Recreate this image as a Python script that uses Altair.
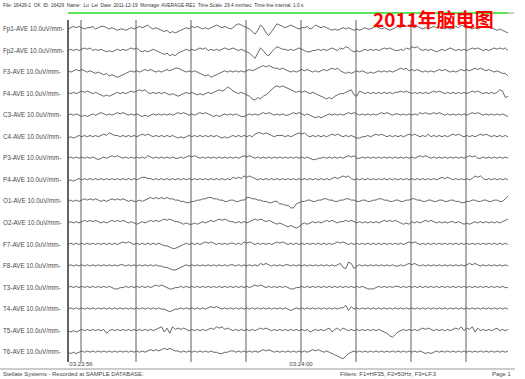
import altair as alt
import pandas as pd

# ---------------- data ----------------
channels = ["Fp1", "Fp2", "F3", "F4", "C3", "C4", "P3", "P4",
            "O1", "O2", "F7", "F8", "T3", "T4", "T5", "T6"]
sensitivity = "10.0uV/mm"

# trace deflections (upward positive), read across the 8 s page
Fp1 = [0,1,2,1,2,1,0,1,1,2,0,1,2,2,1,0,1,0,-1,0,
       0,-1,0,1,0,1,2,1,2,3,1,0,1,0,-1,-2,-1,-3,-2,-3,
       -2,-1,0,1,0,2,1,2,1,0,1,0,1,2,3,2,1,2,1,0,
       1,3,4,3,2,1,0,-2,-4,-1,3,1,-3,-5,-2,1,4,3,2,1,
       2,3,2,1,0,1,1,2,0,1,3,2,1,2,1,0,-1,0,-1,0,
       1,0,1,0,-1,0,-1,0,1,0,0,1,2,1,0,1,0,-1,0,1,
       2,1,3,2,3,2,1,2,1,0,1,0,1,2,1,2,1,0,1,0,
       1,2,1,3,2,3,1,0,1,0,1,2,1,2,1,0,-1,0,-1,-2, -3]
Fp2 = [0,1,0,1,0,1,2,1,2,0,1,0,1,0,-1,0,-1,0,1,0,
       1,0,1,2,1,2,0,-1,0,-1,0,1,0,-1,-2,-3,-2,-4,-3,-4,
       -2,-1,0,1,0,1,0,1,2,1,2,0,1,0,1,0,1,2,1,1,
       2,1,0,1,0,-1,-2,-4,-6,-2,2,0,-3,-4,-1,1,3,2,1,1,
       0,1,0,1,2,1,0,-1,-1,0,0,1,0,1,0,1,2,1,0,2,
       1,3,2,0,-1,0,-1,0,1,0,1,0,1,0,1,2,1,2,1,0,
       0,1,0,2,1,3,2,3,1,0,1,0,1,0,-1,0,1,0,1,2,
       1,0,1,0,1,0,1,2,1,2,1,0,1,0,1,2,1,2,1,2, 0]
F3 = [1,0,1,2,1,2,1,0,1,0,-1,0,-1,-2,-1,-3,-2,-3,-4,-3,
      -2,-1,0,1,0,1,0,1,2,1,2,1,0,1,0,1,2,1,2,3,
      3,2,1,0,1,0,1,0,-1,-2,-3,-2,-4,-3,-2,-1,0,1,0,1,
      0,1,0,1,0,1,2,1,2,3,4,5,4,5,4,3,3,2,3,2,
      1,0,1,0,1,2,1,2,1,0,1,0,1,2,1,2,3,2,3,1,
      0,-1,0,-1,0,1,0,1,0,-1,0,-1,0,1,0,1,0,1,0,1,
      2,3,2,3,1,2,1,2,1,0,1,0,1,0,1,2,1,2,1,0,
      1,0,1,2,1,2,1,2,3,2,3,2,1,2,1,0,1,0,-1,-1, -3]
F4 = [1,0,1,0,1,2,1,2,1,0,1,0,-1,-2,-1,-2,-1,0,1,0,
      1,0,1,2,1,2,3,2,3,1,0,1,0,1,0,1,0,-1,0,-1,
      -2,-1,0,1,0,1,0,-1,0,-1,0,1,0,1,2,3,2,3,5,4,
      2,1,0,1,0,-1,-2,-4,-5,-3,-4,-2,-1,1,3,5,6,5,6,5,
      4,3,2,1,2,1,2,1,0,1,0,-1,-2,-3,-4,-3,-4,-2,-1,0,
      0,1,2,3,-1,-2,2,1,0,1,0,1,0,1,0,1,0,1,0,1,
      1,2,1,2,1,0,1,0,1,0,1,0,1,2,1,2,1,0,1,0,
      1,0,1,0,1,0,1,2,1,2,1,0,1,0,1,0,1,3,2,-3, -2]
C3 = [0,1,0,1,0,-1,0,-1,0,1,0,1,2,1,0,1,0,1,2,1,
      2,1,0,1,0,1,0,-1,0,-1,0,1,0,1,0,1,0,1,0,1,
      2,1,2,1,0,1,0,1,2,1,2,1,0,-1,0,-1,0,1,0,1,
      0,1,0,-1,-1,0,1,0,1,0,1,2,1,2,1,0,1,0,1,0,
      0,1,2,1,2,1,0,1,0,-1,-2,-1,-2,-1,0,1,0,1,0,1,
      0,1,2,1,2,1,0,1,0,1,0,1,0,1,2,1,2,1,0,1,
      1,0,1,0,1,0,1,0,2,1,2,1,1,2,1,2,1,0,1,0,
      1,0,1,0,1,0,1,2,1,2,1,0,1,0,1,0,1,0,1,0, -1]
C4 = [-1,0,-1,0,1,0,1,0,1,0,1,0,1,2,1,3,2,1,1,0,
      1,0,1,0,1,0,1,2,1,2,1,0,1,0,1,0,1,0,1,0,
      -1,0,-1,0,1,0,1,0,1,0,1,0,1,0,1,0,-1,0,-1,0,
      1,0,1,0,1,0,1,0,2,3,3,2,3,2,1,0,1,1,1,0,
      1,0,1,2,3,2,3,1,0,1,0,1,0,1,0,1,2,1,2,1,
      0,1,0,1,0,-1,-1,0,0,1,0,1,2,1,2,1,0,1,0,1,
      0,1,0,1,2,1,2,1,0,1,0,2,0,1,0,1,0,1,0,1,
      2,1,2,1,0,1,0,1,0,1,2,1,2,1,0,1,0,1,0,1, 0]
P3 = [0,1,0,1,0,1,0,1,0,1,0,-1,0,1,0,1,2,1,2,1,
      0,1,0,1,0,1,0,1,0,2,1,0,1,0,1,0,1,0,1,0,
      0,1,0,1,2,1,2,1,0,1,0,1,0,1,0,1,0,1,0,1,
      0,1,0,1,2,1,2,1,0,1,0,1,0,1,0,1,0,1,0,1,
      0,1,0,1,0,1,0,1,0,-1,-1,0,0,1,0,1,0,1,0,1,
      0,1,2,1,2,0,0,1,0,1,0,1,0,1,0,1,0,1,0,1,
      0,1,0,1,0,1,0,1,2,1,2,1,0,1,0,1,0,1,0,1,
      0,1,0,1,0,1,2,1,2,0,0,1,0,1,0,1,0,1,0,1, 0]
P4 = [-1,0,-1,0,1,0,1,0,1,0,1,0,1,0,1,0,1,0,1,0,
      1,0,1,0,1,0,1,2,2,1,1,0,1,0,1,0,1,0,1,0,
      1,0,1,0,1,0,1,0,1,0,1,0,1,0,1,0,1,0,1,0,
      2,1,2,1,3,2,3,2,1,0,1,0,1,0,1,0,1,0,1,0,
      1,0,1,0,1,0,1,0,1,0,1,0,1,0,1,0,1,2,1,2,
      3,2,3,1,0,1,0,1,0,1,0,1,0,1,0,1,0,1,0,1,
      0,1,0,1,0,1,0,1,0,1,0,1,0,1,0,1,2,1,2,1,
      0,1,0,1,0,1,0,1,3,2,3,1,0,1,0,1,0,1,0,1, 0]
O1 = [0,1,0,1,0,1,2,1,2,1,2,1,0,1,0,1,2,1,2,1,
      2,1,0,1,0,0,1,0,1,2,3,2,3,2,3,2,3,2,2,1,
      1,0,0,-1,-1,0,0,1,1,2,2,3,3,2,2,1,1,0,0,1,
      1,0,0,1,1,3,3,2,2,1,1,0,0,-1,-1,0,0,-2,-2,-3,
      -3,-5,-5,-2,-1,0,0,1,1,0,0,1,1,2,2,1,1,0,0,1,
      1,2,2,1,1,0,0,1,1,0,0,1,1,2,2,1,1,0,0,1,
      1,0,0,1,1,2,2,1,1,0,0,1,1,0,0,1,1,0,0,1,
      1,0,0,-1,-1,0,0,1,1,0,0,1,1,0,0,1,1,0,0,2, 4]
O2 = [0,1,0,1,0,1,2,1,2,1,2,1,0,1,0,1,2,1,2,1,
      2,1,0,1,0,-1,0,1,0,1,2,1,2,1,2,3,2,3,2,1,
      1,0,-1,0,-1,-1,0,-1,0,1,0,1,2,1,2,3,2,3,2,1,
      1,0,1,0,1,0,1,2,3,2,3,2,1,2,1,0,-1,0,-1,-2,
      -3,-2,-3,-4,-3,-1,0,-1,0,1,0,1,0,1,2,1,2,1,0,1,
      1,2,1,2,1,0,1,0,1,0,1,0,1,0,1,2,1,2,1,2,
      1,0,-1,0,-1,1,0,1,0,1,2,1,2,1,0,1,0,1,0,1,
      1,0,1,0,-1,0,-1,0,1,0,1,0,1,0,1,0,1,0,1,2, 3]
F7 = [0,1,0,1,0,1,0,1,0,1,0,1,0,1,0,1,0,1,0,1,
      2,1,2,1,0,1,0,1,0,1,0,1,0,1,0,-1,-1,-2,-3,-3,
      -2,-1,0,1,0,1,0,1,0,1,2,1,2,1,0,1,0,1,0,1,
      1,0,1,0,2,1,2,1,0,1,0,1,0,1,0,1,2,1,2,1,
      0,1,0,1,0,1,0,1,0,1,0,1,0,1,0,1,0,1,2,1,
      2,1,0,1,0,1,0,1,0,1,0,1,0,1,0,1,0,1,0,1,
      0,1,0,1,2,1,2,1,0,1,0,1,0,1,0,1,0,1,0,1,
      0,1,0,1,0,1,0,1,0,1,0,1,0,1,0,1,0,1,0,1, 0]
F8 = [0,1,0,1,0,1,0,1,0,1,0,1,0,1,0,1,0,1,0,1,
      1,0,1,0,1,0,1,0,1,0,1,0,1,0,0,-1,-1,-2,-3,-3,
      -2,-1,0,1,0,1,0,1,0,1,0,1,0,1,0,1,0,1,0,1,
      1,0,1,0,1,0,1,0,1,0,2,1,2,1,0,1,0,1,0,1,
      1,0,1,0,1,0,1,0,1,0,1,0,1,0,1,0,1,0,1,2,
      -1,-2,3,2,-2,0,1,0,1,0,1,0,1,0,1,0,1,0,1,0,
      0,1,0,1,2,1,2,1,0,1,0,1,0,1,0,1,0,1,0,1,
      0,1,0,1,0,1,2,1,2,1,0,1,0,1,0,1,0,1,0,1, 0]
T3 = [0,1,0,1,0,1,0,1,0,1,0,1,0,1,0,1,0,-1,-1,0,
      0,1,0,1,0,1,0,1,0,1,0,1,2,1,2,1,0,-1,-1,0,
      0,1,0,1,0,1,0,1,0,1,0,1,0,1,0,1,0,1,0,1,
      0,1,0,1,0,1,0,1,2,1,2,1,0,1,0,1,0,1,0,1,
      0,-1,-1,0,0,1,0,1,0,1,0,1,0,1,0,1,0,1,0,1,
      0,1,0,1,0,1,0,1,0,-1,-1,-1,0,1,0,1,0,1,0,1,
      1,0,1,0,1,0,1,0,1,0,1,0,1,0,1,0,1,0,1,0,
      1,0,1,0,1,0,1,0,1,0,1,0,1,0,1,0,1,0,1,0, 0]
T4 = [0,1,0,1,0,1,0,1,0,1,0,1,0,1,0,1,0,1,0,1,
      0,1,0,1,0,1,0,1,0,1,0,1,0,1,0,0,-1,-2,-1,0,
      0,1,0,1,0,1,0,1,0,1,0,1,2,1,2,1,0,1,0,1,
      0,1,0,1,0,1,0,1,0,1,0,1,0,1,0,1,0,1,0,1,
      0,-1,0,1,0,1,0,1,0,1,0,1,0,1,0,1,0,1,0,1,
      1,3,-1,2,0,1,0,1,0,1,0,1,0,1,0,1,0,1,0,1,
      0,1,0,1,0,1,0,1,0,1,0,1,0,1,0,1,0,1,0,1,
      0,1,0,1,0,1,0,1,0,1,0,1,0,1,0,1,0,1,0,1, 0]
T5 = [0,-1,0,-1,0,1,0,1,0,1,0,1,0,1,-2,0,1,0,1,0,
      1,0,1,0,1,0,1,0,1,0,1,0,1,2,3,-1,2,-2,3,1,
      2,1,2,1,0,1,0,1,0,1,0,1,2,1,3,2,3,1,2,1,
      0,1,0,1,0,1,0,1,0,1,2,1,2,1,0,1,0,1,0,1,
      0,1,0,1,0,1,0,1,-1,0,1,0,1,0,1,2,-1,1,2,0,
      2,1,0,1,0,1,0,1,0,1,0,1,0,1,0,-1,-2,-4,-5,-3,
      -1,0,1,0,1,0,1,0,1,2,1,2,1,0,1,0,1,0,1,0,
      1,2,1,3,0,2,1,3,-1,2,0,1,0,1,0,1,2,0,1,0, 1]
T6 = [0,-1,0,-1,0,1,0,1,0,1,0,1,0,1,0,1,0,1,0,1,
      0,1,0,1,0,1,0,1,0,1,2,1,2,1,2,3,2,3,2,1,
      1,0,1,0,1,0,1,0,1,0,1,0,1,0,0,-1,-1,0,0,1,
      1,0,1,0,1,0,1,0,1,0,1,2,1,2,1,0,1,0,1,0,
      1,0,1,0,1,0,1,0,1,2,1,2,1,0,1,0,-1,-2,-3,-4,
      -5,-3,-1,0,1,0,1,0,1,0,1,0,1,0,1,0,1,0,1,0,
      1,0,1,0,1,0,1,0,1,0,-1,0,-1,0,1,0,1,0,1,0,
      1,0,1,0,1,0,1,0,1,0,1,0,1,0,1,0,1,0,1,0, 1]

series = [Fp1, Fp2, F3, F4, C3, C4, P3, P4, O1, O2, F7, F8, T3, T4, T5, T6]

# time in seconds relative to 03:23:56
page_start = -0.236
page_end = 7.764
second_marks = [0, 1, 2, 3, 4, 5, 6, 7]
time_labels = ["03:23:56", "03:24:00"]
time_label_secs = [0, 4]

NB = "\u00a0"
header = (f"File: 16429-1 {NB}OK {NB}ID: 16429 {NB}Name: {NB}Lu {NB}Lei {NB}Date: 2011-12-19 {NB}"
          f"Montage: AVERAGE-RE1 {NB}Time Scale: 29.4 mm/sec {NB}Time line interval: 1.0 s")
title = "2011年脑电图"
footer_left = "Stellate Systems - Recorded at SAMPLE DATABASE."
footer_mid = "Filters: F1=HF35, F2=50Hz, F3=LF.3"
footer_right = "Page 1"

# ---------------- tables ----------------
gain = 1.3 / 21.55
rows = []
for r, (ch, vals) in enumerate(zip(channels, series)):
    n = len(vals)
    step = (page_end - page_start) / (n - 1)
    for i, v in enumerate(vals):
        rows.append({"ch": ch, "t": page_start + i * step, "y": r - v * gain})
trace_df = pd.DataFrame(rows)
label_df = pd.DataFrame({"label": [f"{c}-AVE {sensitivity}-" for c in channels],
                         "row": list(range(len(channels)))})
marks_df = pd.DataFrame({"t": second_marks})
tl_df = pd.DataFrame({"t": time_label_secs, "label": time_labels})
page_df = pd.DataFrame({"t0": [page_start], "t1": [page_end]})

xs = alt.Scale(domain=[-81 / 55, (525 - 81) / 55])
ys = alt.Scale(domain=[-29 / 21.55, (379 - 29) / 21.55], reverse=True)
X = lambda f: alt.X(f, type="quantitative", scale=xs, axis=None)
Y = lambda f: alt.Y(f, type="quantitative", scale=ys, axis=None)

grid = alt.Chart(marks_df).mark_rule(color="#9a9a9a", strokeWidth=1.6).encode(
    x=X("t"), y=alt.value(20), y2=alt.value(362))
start_line = alt.Chart(page_df).mark_rule(color="#111111", strokeWidth=1.3).encode(
    x=X("t0"), y=alt.value(20), y2=alt.value(362))
lines = alt.Chart(trace_df).mark_line(color="#555555", strokeWidth=0.9).encode(
    x=X("t"), y=Y("y"), detail="ch")
labels = alt.Chart(label_df).mark_text(
    align="left", baseline="middle", fontSize=6.3, font="Liberation Sans", color="#4a4a4a"
).encode(x=alt.value(3), y=Y("row"), text="label")
green = alt.Chart(page_df).mark_rule(color="#22dd22", strokeWidth=1.6).encode(
    x=X("t0"), x2="t1", y=alt.value(13))
tail = alt.Chart(page_df).mark_rule(color="#aaaaaa", strokeWidth=1.2).encode(
    x=X("t1"), x2=alt.value(514), y=alt.value(13))
head = alt.Chart(pd.DataFrame({"s": [header]})).mark_text(
    align="left", baseline="middle", fontSize=4.8, font="Liberation Sans", color="#333333"
).encode(x=alt.value(3), y=alt.value(6), text="s")
ttl = alt.Chart(pd.DataFrame({"s": [title]})).mark_text(
    align="left", baseline="alphabetic", fontSize=19, fontWeight="bold",
    font="Noto Sans CJK SC", color="#ff0000"
).encode(x=alt.value(373), y=alt.value(27), text="s")
tlab = alt.Chart(tl_df).mark_text(
    align="center", baseline="middle", fontSize=6, font="Liberation Sans", color="#444444"
).encode(x=X("t"), y=alt.value(364), text="label")
bottom_rule = alt.Chart(page_df).mark_rule(color="#999999", strokeWidth=1).encode(
    x=alt.value(0), x2=alt.value(515), y=alt.value(369))
foot = alt.Chart(pd.DataFrame({
    "s": [footer_left, footer_mid, footer_right],
    "px": [3, 340, 492]})).mark_text(
    align="left", baseline="middle", fontSize=5.9, font="Liberation Sans", color="#444444"
).encode(x=alt.X("px:Q", scale=alt.Scale(domain=[0, 525]), axis=None),
         y=alt.value(374), text="s")

chart = alt.layer(grid, start_line, lines, labels, green, tail, head, ttl, tlab,
                  bottom_rule, foot).properties(
    width=525, height=379, padding=0, autosize="none", background="white"
).configure_view(stroke=None).resolve_scale(x="independent")

chart.save("out.html", embed_options={"renderer": "svg", "actions": False})
